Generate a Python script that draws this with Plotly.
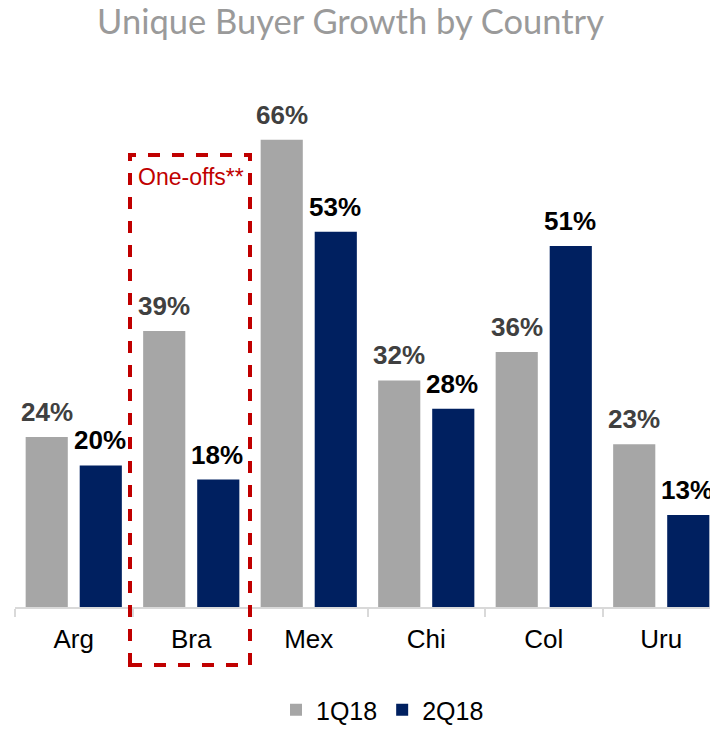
import plotly.graph_objects as go

countries = ["Arg", "Bra", "Mex", "Chi", "Col", "Uru"]
q1_values = [24, 39, 66, 32, 36, 23]
q2_values = [20, 18, 53, 28, 51, 13]
series_names = ["1Q18", "2Q18"]

GRAY = "#a6a6a6"
NAVY = "#002060"
FONT = "Liberation Sans, Arial"

fig = go.Figure()
fig.add_trace(go.Bar(x=countries, y=q1_values, name=series_names[0],
                     marker=dict(color=GRAY, line=dict(width=0))))
fig.add_trace(go.Bar(x=countries, y=q2_values, name=series_names[1],
                     marker=dict(color=NAVY, line=dict(width=0))))

# value labels
for vals, shift, col in [(q1_values, -27, "#404040"), (q2_values, 26, "#000000")]:
    for c, v in zip(countries, vals):
        fig.add_annotation(x=c, y=v, xref="x", yref="y", text=f"<b>{v}%</b>",
                           showarrow=False, xshift=shift, yanchor="bottom", yshift=8,
                           font=dict(family=FONT, size=26, color=col))

# dashed box around Bra
fig.add_shape(type="rect", xref="paper", yref="paper",
              x0=(130 - 15) / 695, x1=(250 - 15) / 695,
              y0=(607 - 665) / 507, y1=(607 - 155) / 507,
              line=dict(color="#c00000", width=4, dash="dash"), layer="above")
fig.add_annotation(xref="paper", yref="paper", x=(191 - 15) / 695, y=(607 - 177) / 507,
                   text="One-offs**", showarrow=False, xanchor="center", yanchor="middle",
                   font=dict(family=FONT, size=23, color="#c00000"))

fig.update_layout(
    width=710, height=733,
    margin=dict(l=15, r=0, t=100, b=126, autoexpand=False),
    paper_bgcolor="white", plot_bgcolor="white",
    barmode="group", bargap=0.08, bargroupgap=0.22,
    title=dict(text="Unique Buyer Growth by Country", x=350.5 / 710, xanchor="center",
               y=1 - 22 / 733, yanchor="middle", xref="container",
               font=dict(family="Lato", size=34.5, color="#9a9a9a")),
    xaxis=dict(range=[-0.5, -0.5 + 695 / 117.5], showgrid=False,
               showline=True, linecolor="#d9d9d9", linewidth=2,
               ticks="outside", tickson="boundaries", ticklen=8, tickcolor="#d9d9d9", tickwidth=2,
               ticklabelstandoff=8,
               tickfont=dict(family=FONT, size=26, color="#000000")),
    yaxis=dict(range=[0, 507 / 7.08], visible=False, showgrid=False),
    legend=dict(orientation="h", x=0.5 + 20 / 695, xanchor="center",
                yref="container", y=0, yanchor="bottom",
                font=dict(family=FONT, size=25, color="#000000"),
                itemwidth=30, tracegroupgap=0),
    showlegend=True,
)
fig.write_html("out.html", config={"displayModeBar": False},
               post_script="document.body.style.margin='0';")
